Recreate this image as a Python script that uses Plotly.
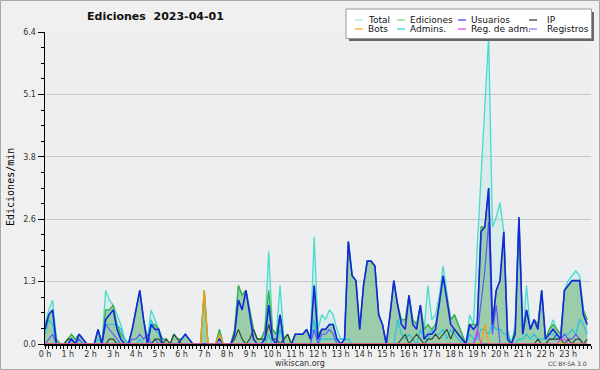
import plotly.graph_objects as go

# ---- data: edits/min, one value per 10 minutes (6 per hour) ----
total = [
 0.4,0.7,0.9,0.1,0,0,   0.1,0.2,0.1,0.2,0.1,0,   0,0,0.3,0,1.1,0.9,   0.8,0.6,0.4,0.1,0,0.3,
 0.7,1.1,0.5,0.1,0.7,0.5, 0.3,0.1,0.1,0,0.2,0.1, 0.1,0.2,0.1,0,0,0,   1.1,0,0,0,0.3,0,
 0,0,0.3,1.2,1.0,1.1,   0.7,0.3,0.1,0.1,0.3,1.9, 0.3,0.2,1.2,0.1,0.2,0, 0.2,0.2,0.2,0.3,0.1,2.2,
 0.3,0.6,0.5,0.7,0.6,0.3, 0.1,0.1,2.1,1.4,1.3,0.3, 1.2,1.7,1.7,1.6,0.6,0.4, 0,0.6,1.3,0.8,0.5,0.5,
 1.0,0.5,0.4,0.8,0.3,1.2, 0.5,0.6,1.0,1.6,1.0,0.5, 0.6,0.4,0.2,0,0.6,0.4, 2.0,3.4,4.9,6.3,2.4,2.6,
 2.9,2.3,0.3,0,0.4,2.6,  0.2,1.2,0.3,0.5,0.4,1.1, 0.1,0.3,0.5,0.3,0.2,1.1, 1.3,1.4,1.5,1.4,0.7,0.5]
ediciones = [
 0.4,0.6,0.7,0.1,0,0,   0.1,0.2,0.1,0.2,0.1,0,   0,0,0.3,0,0.7,0.7,   0.8,0.4,0.2,0.1,0,0.3,
 0.7,1.1,0.5,0.1,0.4,0.4, 0.3,0.1,0.1,0,0.2,0.1, 0.1,0.2,0.1,0,0,0,   1.1,0,0,0,0.3,0,
 0,0,0.3,1.2,1.0,1.1,   0.7,0.3,0.1,0.1,0.3,1.1, 0.3,0.2,0.6,0.1,0.2,0, 0.2,0.2,0.2,0.3,0.1,1.2,
 0.2,0.3,0.3,0.4,0.4,0.1, 0,0.1,2.1,1.4,1.3,0.3, 1.2,1.7,1.7,1.6,0.6,0.4, 0,0.6,1.3,0.8,0.5,0.5,
 1.0,0.5,0.4,0.8,0.3,0.4, 0.3,0.4,0.8,1.4,0.9,0.5, 0.6,0.4,0.2,0,0.4,0.4, 0.4,2.4,2.4,3.2,0.4,1.1,
 1.3,2.3,0.2,0,0.3,2.6,  0.2,0.7,0.3,0.5,0.4,1.1, 0.1,0.3,0.4,0.3,0.2,1.1, 1.2,1.3,1.3,1.3,0.7,0.5]
usuarios = [
 0.3,0.6,0.7,0,0,0,     0,0.1,0,0.2,0.1,0,       0,0,0.3,0,0.5,0.6,   0.7,0.3,0.1,0,0,0.3,
 0.7,1.1,0.5,0,0.4,0.3,  0.3,0,0,0,0,0,         0.1,0.2,0.1,0,0,0,   0,0,0,0,0.1,0,
 0,0,0.2,0.9,0.7,1.1,   0.6,0.1,0,0,0.1,0.8,     0.1,0,0.6,0,0,0,     0.2,0.2,0.2,0.3,0.1,1.2,
 0.1,0.3,0.3,0.4,0.4,0.1, 0,0.1,2.1,1.4,1.3,0.3, 1.2,1.7,1.7,1.6,0.6,0.4, 0,0.6,1.3,0.8,0.4,0.3,
 1.0,0.4,0.3,0.8,0.1,0.2, 0.2,0.3,0.8,1.4,0.9,0.4, 0.3,0.2,0.1,0,0.4,0.3, 0.4,2.3,2.4,3.2,0.4,1.1,
 1.3,2.3,0.1,0,0.2,2.6,  0.2,0.7,0.3,0.5,0.3,1.1, 0.1,0.2,0.3,0.2,0.1,1.1, 1.2,1.3,1.3,1.3,0.6,0.4]
ip = [
 0,0,0,0,0,0,           0.1,0.1,0,0,0,0,         0,0,0,0,0,0.1,       0.1,0,0,0,0,0,
 0,0,0,0,0,0.1,         0.1,0,0.1,0,0.2,0.1,     0,0,0,0,0,0,         0,0,0,0,0,0,
 0,0,0.1,0.3,0.1,0,     0.1,0.3,0.1,0.1,0.1,0.4, 0.1,0.1,0,0.1,0.2,0, 0,0,0,0,0,0,
 0,0,0,0,0,0,           0,0,0,0,0,0,             0,0,0,0,0,0,         0,0,0,0,0.1,0.2,
 0,0.1,0.2,0.1,0,0.1,   0.1,0.2,0.1,0.2,0.3,0.1, 0.3,0.2,0.1,0,0,0,   0,0,0,0,0,0,
 0,0,0,0,0,0,           0,0,0,0,0.1,0,           0,0.1,0.1,0.1,0.1,0, 0.1,0,0.1,0.1,0,0.1]
admins = [
 0.2,0.5,0.4,0,0,0,     0,0.1,0,0.1,0,0,         0,0,0.1,0,0.4,0.4,   0.4,0.4,0.3,0.1,0,0,
 0,0.1,0,0,0.5,0.3,     0.2,0,0,0,0,0,           0,0,0,0,0,0,         0,0,0,0,0,0,
 0,0,0,0,0,0,           0,0,0,0,0,0.2,           0,0,0.3,0,0,0,       0,0,0,0,0,0.5,
 0,0.1,0.1,0.1,0.1,0.1, 0.1,0.1,0.1,0,0,0,       0,0,0,0,0,0,         0,0,0,0.5,0.2,0.1,
 0.2,0.1,0,0.3,0.1,0.1, 0.3,0.2,0.2,0.3,0.1,0.3, 0.2,0.1,0,0,0.2,0.1, 0.1,0.3,0.3,0.2,0.4,0.3,
 0.3,0.2,0.2,0,0,0.1,   0.1,0.2,0.1,0.2,0.1,0.1, 0.1,0.2,0.2,0.1,0.1,0.2, 0.2,0.3,0.2,0.5,0.4,0.2]
registros = [
 0,0.1,0.2,0,0,0,       0,0,0,0.1,0,0,           0,0,0,0,0.4,0.3,     0.2,0.1,0,0,0,0.1,
 0.1,0.2,0.1,0.2,0,0.1, 0,0,0,0,0,0,             0,0,0,0,0,0,         0,0,0,0,0,0,
 0,0,0,0,0,0,           0,0,0,0,0,0,             0,0,0,0,0,0,         0,0,0,0,0,0.3,
 0,0.2,0.2,0.3,0.2,0,   0,0,0,0,0,0,             0,0,0,0,0,0,         0,0,0,0,0,0,
 0,0,0,0,0,0,           0,0,0,0,0,0,             0,0,0,0,0,0,         0.2,0.8,1.5,2.5,0.2,0.8,
 0,0,0,0,0,0,           0,0,0,0,0,0,             0,0.1,0.1,0.2,0.1,0.2, 0.1,0.1,0.2,0.1,0,0]
bots = [0]*42 + [1.1,0,0,0,0.2,0] + [0]*66 + [0,0,0.4,0,0,0] + [0]*24
reg_adm = [0]*114 + [0.3] + [0]*20 + [0,0.1,0.1] + [0]*6

hour_labels = [f"{h} h" for h in range(24)]
y_ticks = [0, 1.28, 2.56, 3.84, 5.12, 6.4]
y_labels = ["0.0", "1.3", "2.6", "3.8", "5.1", "6.4"]

x = [i / 6 for i in range(len(total))]

W, H = 600, 370
L, R, T, B = 45, 9, 32, 26
PW, PH = W - L - R, H - T - B
def px(xp): return (xp - L) / PW
def py(yp): return (H - B - yp) / PH

fig = go.Figure()
fig.add_trace(go.Scatter(x=x, y=total, mode="lines", line=dict(color="#48dccc", width=1.3),
                         fill="tozeroy", fillcolor="rgba(120,225,210,0.16)", name="Total"))
fig.add_trace(go.Scatter(x=x, y=ediciones, mode="lines", line=dict(color="#3cae46", width=1.3),
                         fill="tozeroy", fillcolor="rgba(70,165,80,0.42)", name="Ediciones"))
fig.add_trace(go.Scatter(x=x, y=admins, mode="lines", line=dict(color="#22c4e4", width=1.2), name="Admins."))
fig.add_trace(go.Scatter(x=x, y=registros, mode="lines", line=dict(color="#5a5cf4", width=1.2), name="Registros"))
fig.add_trace(go.Scatter(x=x, y=ip, mode="lines", line=dict(color="#2f4a33", width=1.2), name="IP"))
fig.add_trace(go.Scatter(x=x, y=usuarios, mode="lines", line=dict(color="#1426e0", width=1.6), name="Usuarios"))
fig.add_trace(go.Scatter(x=x, y=bots, mode="lines", line=dict(color="#ff9a10", width=1.3), name="Bots"))
fig.add_trace(go.Scatter(x=x, y=reg_adm, mode="lines", line=dict(color="#e040e8", width=1.2), name="Reg. de adm."))

font = "DejaVu Sans, Verdana, sans-serif"
fig.update_layout(
    width=W, height=H, showlegend=False, hovermode=False,
    margin=dict(l=L, r=R, t=T, b=B, autoexpand=False),
    paper_bgcolor="#f0f0f0", plot_bgcolor="#eceef0",
    font=dict(family=font, size=8, color="#333333"),
    xaxis=dict(range=[0, 24], tickvals=list(range(24)), ticktext=hour_labels, automargin=False,
               showgrid=False, zeroline=False, showline=True, linecolor="#000", linewidth=2,
               ticks="outside", ticklen=3, tickcolor="#000", tickwidth=1, ticklabelstandoff=-2,
               minor=dict(dtick=1/6, tick0=0, ticks="outside", ticklen=3, tickcolor="#000", showgrid=False),
               tickfont=dict(size=8, color="#333")),
    yaxis=dict(range=[0, 6.4], tickvals=y_ticks, ticktext=y_labels, automargin=False,
               showgrid=True, gridcolor="#c8c8c8", gridwidth=1, zeroline=False,
               showline=True, linecolor="#000", linewidth=1.5,
               ticks="outside", ticklen=6, tickcolor="#000",
               minor=dict(dtick=0.32, tick0=0, ticks="outside", ticklen=3, tickcolor="#000", showgrid=False),
               tickfont=dict(size=8, color="#333")),
)

shapes = []
# outer border
shapes.append(dict(type="rect", xref="paper", yref="paper", x0=px(0.5), x1=px(599.5), y0=py(0.5), y1=py(369.5),
                   line=dict(color="#a8a8a8", width=1), fillcolor="rgba(0,0,0,0)", layer="above"))
# legend shadow + box
shapes.append(dict(type="rect", xref="paper", yref="paper", x0=px(349), x1=px(594), y0=py(12), y1=py(41),
                   line=dict(width=0), fillcolor="#666666", layer="above"))
shapes.append(dict(type="rect", xref="paper", yref="paper", x0=px(346), x1=px(591.5), y0=py(9), y1=py(38.5),
                   line=dict(color="#999999", width=1), fillcolor="#ffffff", layer="above"))
annotations = []
legend_items = [
    ("Total", "#a6ece6", 355, 366, 20), ("Ediciones", "#80d080", 397, 408, 20),
    ("Usuarios", "#3a3aff", 458, 469, 20), ("IP", "#333333", 529, 545, 20),
    ("Bots", "#ffa020", 355, 366, 29), ("Admins.", "#30d6e8", 397, 408, 29),
    ("Reg. de adm.", "#e040f0", 458, 469, 29), ("Registros", "#7878ff", 529, 545, 29),
]
for name, col, lx, tx, ly in legend_items:
    shapes.append(dict(type="line", xref="paper", yref="paper", x0=px(lx), x1=px(lx + 8), y0=py(ly), y1=py(ly),
                       line=dict(color=col, width=1.2), layer="above"))
    annotations.append(dict(xref="paper", yref="paper", x=px(tx), y=py(ly), text=name, showarrow=False,
                            xanchor="left", yanchor="middle", font=dict(family=font, size=9, color="#111")))

annotations.append(dict(xref="paper", yref="paper", x=px(85), y=py(17), text="<b>Ediciones  2023-04-01</b>",
                        showarrow=False, xanchor="left", yanchor="middle", font=dict(family=font, size=11, color="#111")))
annotations.append(dict(xref="paper", yref="paper", x=px(10), y=py(187), text="Ediciones/min", textangle=-90,
                        showarrow=False, xanchor="center", yanchor="middle",
                        font=dict(family="DejaVu Sans Mono", size=10, color="#000")))
annotations.append(dict(xref="paper", yref="paper", x=px(300), y=py(363), text="wikiscan.org",
                        showarrow=False, xanchor="center", yanchor="middle", font=dict(family=font, size=8, color="#333")))
annotations.append(dict(xref="paper", yref="paper", x=px(589), y=py(363), text="CC BY-SA 3.0",
                        showarrow=False, xanchor="right", yanchor="middle", font=dict(family=font, size=6, color="#444")))

fig.update_layout(shapes=shapes, annotations=annotations)
fig.write_html("out.html", config={"displayModeBar": False, "staticPlot": True},
               post_script="document.body.style.margin='0';document.body.style.padding='0';")
